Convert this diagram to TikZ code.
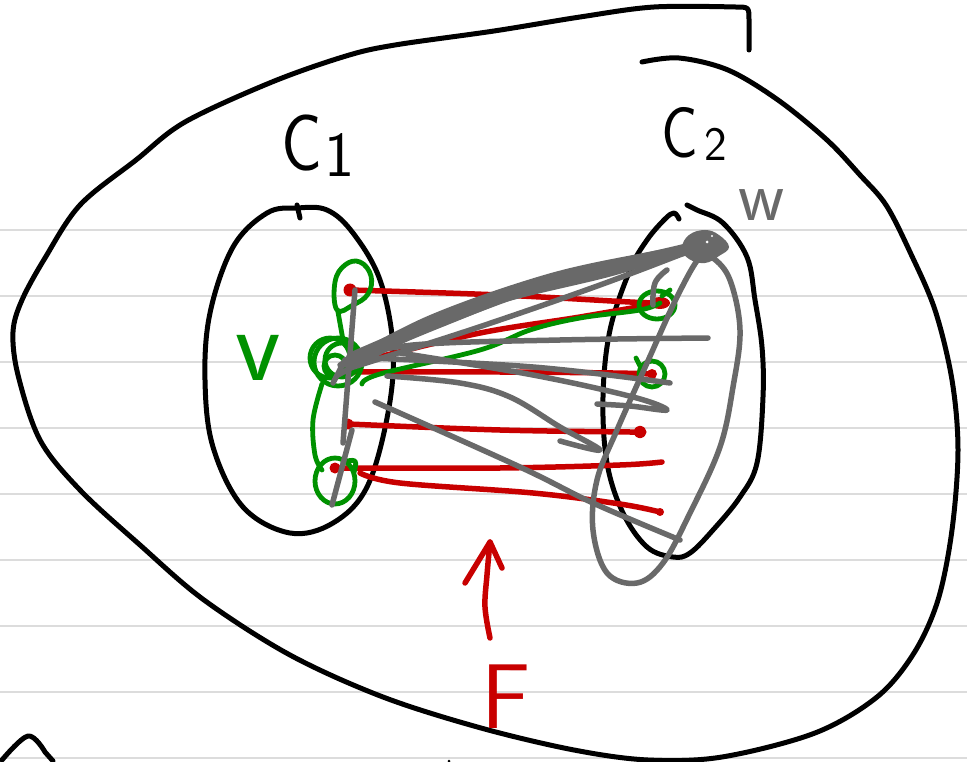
\documentclass[tikz,border=0pt]{standalone}
\usepackage{fontspec}
\definecolor{skred}{RGB}{200,0,0}
\definecolor{skgreen}{RGB}{0,145,0}
\definecolor{skgray}{RGB}{105,105,105}
\definecolor{skrule}{RGB}{220,220,220}
\begin{document}
\begin{tikzpicture}[x=1pt,y=-1pt,line cap=round,line join=round,
  blk/.style={draw=black,line width=5pt},
  redge/.style={draw=skred,line width=5.5pt},
  gedge/.style={draw=skgreen,line width=4.8pt},
  gyedge/.style={draw=skgray,line width=5.5pt},
  rulel/.style={draw=skrule,line width=2.5pt},
  lbl/.style={inner sep=0pt,font=\sffamily}]
\useasboundingbox (0,0) rectangle (967,762);
\fill[white] (0,0) rectangle (967,762);
% ruled paper
\foreach \yy in {230,296,362,428,494,560,626,692,758}
  \draw[rulel] (0,\yy) -- (967,\yy);

% outer region
\draw[blk] (749,50) -- (749,20) .. controls (749,7) .. (735,7)
  -- plot[smooth,tension=0.55] coordinates {(735,7) (654,7) (580,17) (494,31) (395,45) (346,56) (272,82) (185,122) (136,160) (80,205) (45,258) (22,300) (13,332) (18,375) (40,440) (80,490) (140,545) (204,600) (290,655) (383,697) (481,728) (574,750) (648,760) (722,757) (815,733) (877,697) (914,653) (938,600) (952,530) (958,450) (952,380) (935,310) (910,252) (886,205) (860,175) (827,140) (778,100) (728,70) (679,58) (642,62)};
\draw[blk] plot[smooth,tension=0.6] coordinates {(2,760) (28,736) (45,752)} -- (53,761);
\fill (449,761) circle (1.5pt);

% cluster C1
\draw[blk] plot[smooth cycle,tension=0.6] coordinates {(297,208) (327,210) (353,233) (380,280) (393,347) (388,413) (367,487) (333,523) (290,533) (243,507) (213,447) (205,380) (210,313) (233,247) (267,213)};
\draw[blk] (297,205) -- (300,218);
% cluster C2
\draw[blk] plot[smooth,tension=0.6] coordinates {(687,205) (697,210) (723,223) (747,257) (755,300) (762,347) (763,397) (757,463) (740,497) (713,530) (690,553) (673,557) (647,547) (623,513) (607,463) (603,397) (610,330) (630,270) (647,240) (665,219) (674,213) (679,219)};

% labels
\node[lbl,font=\sffamily\fontsize{80}{80}\selectfont,xscale=0.85] (c1C) at (302,143) {C};
\node[lbl,font=\sffamily\fontsize{64}{64}\selectfont] (c1n) at (340,155) {1};
\node[lbl,font=\sffamily\fontsize{72}{72}\selectfont,xscale=0.85] (c2C) at (680,133) {C};
\node[lbl,font=\sffamily\fontsize{48}{48}\selectfont] (c2n) at (716,144) {2};
\node[lbl,text=skgreen,font=\sffamily\fontsize{105}{105}\selectfont] (vlab) at (258,358) {v};
\node[lbl,text=skgray,font=\sffamily\fontsize{72}{72}\selectfont] (wlab) at (762,205) {w};
\node[lbl,text=skred,font=\sffamily\fontsize{92}{92}\selectfont] (Flab) at (506,697) {F};

% vertices
\coordinate (a1) at (350,290);
\coordinate (a2) at (340,365);
\coordinate (a3) at (348,424);
\coordinate (a4) at (335,468);
\coordinate (b1) at (660,303);
\coordinate (b2) at (652,374);
\coordinate (b3) at (640,432);
\coordinate (b4) at (662,462);
\coordinate (b5) at (660,512);
\coordinate (w) at (705,245);

% red edges F
\draw[redge] plot[smooth,tension=0.6] coordinates {(a1) (500,295) (630,302) (b1)};
\draw[redge] plot[smooth,tension=0.6] coordinates {(375,358) (480,333) (580,317) (b1)};
\draw[redge] plot[smooth,tension=0.6] coordinates {(345,372) (500,372) (613,373) (b2)};
\draw[redge] plot[smooth,tension=0.6] coordinates {(a3) (500,430) (630,432) (b3)};
\draw[redge] (b3) circle (3.5pt);
\draw[redge] plot[smooth,tension=0.6] coordinates {(a4) (500,468) (620,465) (b4)};
\draw[redge] plot[smooth,tension=0.6] coordinates {(360,473) (400,483) (533,493) (620,504) (b5)};
\fill[skred] (a1) circle (6.5pt);
\fill[skred] (a3) circle (5.5pt);
\fill[skred] (a4) circle (5.5pt);
\fill[skred] (b1) ellipse (10pt and 6pt);
\fill[skred] (b2) circle (5pt);
\fill[skred] (b5) circle (4pt);

% green: vertex set v
\draw[gedge] plot[smooth cycle,tension=0.7] coordinates {(337,310) (335,282) (345,265) (360,262) (371,276) (368,294) (353,305)};
\draw[gedge] (338,362) circle (24pt);
\draw[gedge] (342,360) circle (17pt);
\draw[gedge] (335,366) circle (11pt);
\draw[gedge] (330,358) circle (20pt);
\draw[gedge] (338,312) -- (343,340);
\draw[gedge] plot[smooth,tension=0.6] coordinates {(322,384) (313,420) (315,455) (322,470)};
\draw[gedge] (335,481) ellipse (20pt and 23pt);
\draw[gedge] plot[smooth,tension=0.7] coordinates {(343,462) (355,461) (354,472)};
\draw[gedge] plot[smooth,tension=0.6] coordinates {(362,384) (380,374) (480,350) (530,330) (580,318) (640,310) (b1)};
\draw[gedge] (657,305) ellipse (18pt and 14pt);
\draw[gedge] (662,296) -- (670,290);
\draw[gedge] (b2) circle (13pt);
\draw[gedge] (640,366) -- (636,358);

% gray: w and its neighbourhood
\draw[gyedge] plot[smooth cycle,tension=0.6] coordinates {(713,258) (730,280) (740,330) (733,387) (720,447) (690,513) (663,563) (637,583) (607,573) (593,530) (597,480) (617,430) (647,363) (677,297) (700,257)};
% bundle v -> w
\draw[gyedge] plot[smooth,tension=0.6] coordinates {(a2) (430,318) (547,277) (647,255) (w)};
\draw[gyedge] plot[smooth,tension=0.6] coordinates {(345,365) (440,325) (550,283) (650,260) (w)};
\draw[gyedge,line width=12pt] plot[smooth,tension=0.6] coordinates {(352,358) (440,321) (550,281) (650,258) (w)};
\draw[gyedge] plot[smooth,tension=0.6] coordinates {(348,362) (480,307) (613,273) (w)};
\draw[gyedge] plot[smooth,tension=0.6] coordinates {(350,368) (470,330) (600,285) (w)};
\draw[gyedge] plot[smooth,tension=0.6] coordinates {(338,375) (420,332) (520,292) (w)};
% other gray edges
\draw[gyedge] plot[smooth,tension=0.6] coordinates {(345,360) (413,345) (560,340) (708,338)};
\draw[gyedge] plot[smooth,tension=0.6] coordinates {(350,357) (533,367) (670,383)};
\draw[gyedge] plot[smooth,tension=0.6] coordinates {(400,353) (533,375) (633,397) (667,410) (630,406) (597,404)};
\draw[gyedge] plot[smooth,tension=0.6] coordinates {(387,376) (460,383) (510,397) (560,427) (600,450) (560,441)};
\draw[gyedge] plot[smooth,tension=0.6] coordinates {(375,402) (520,467) (593,503) (680,540)};
\draw[gyedge] plot[smooth,tension=0.7] coordinates {(653,305) (655,283) (667,270)};
\draw[gyedge] (355,290) -- (343,443);
\draw[gyedge] (352,430) -- (332,505);
\draw[gyedge] (333,383) -- (345,360);
% w blob
\fill[skgray] plot[smooth cycle,tension=0.7] coordinates {(682,248) (689,235) (705,230) (719,235) (729,247) (719,256) (705,263) (689,259)};
\fill[white] (707,242) circle (1.5pt);
\fill[white] (712,236) circle (1.2pt);

% red arrow
\coordinate (arB) at (490,638);
\coordinate (arT) at (490,542);
\draw[redge] plot[smooth,tension=0.6] coordinates {(arB) (485,607) (487,575) (arT)};
\draw[redge] (465,583) -- (arT) -- (502,568);
\end{tikzpicture}
\end{document}
